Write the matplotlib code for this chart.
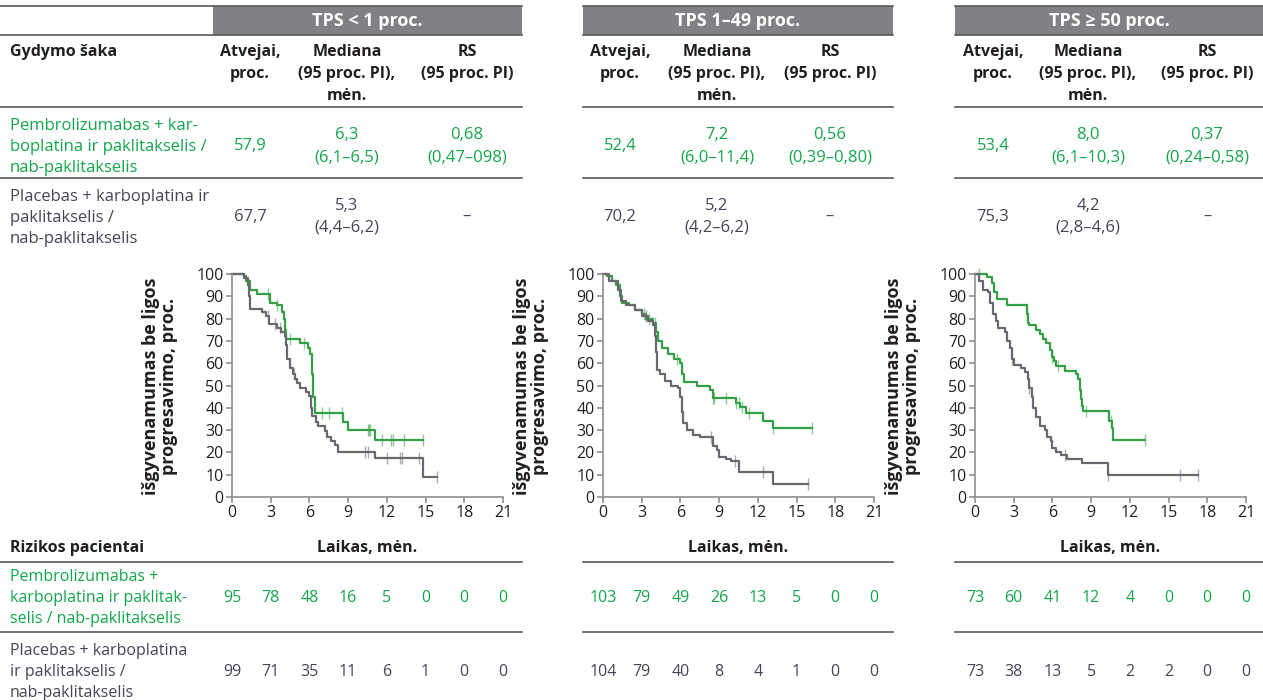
import numpy as np
import matplotlib
matplotlib.use('Agg')
import matplotlib.pyplot as plt
from matplotlib.lines import Line2D
from matplotlib.patches import Rectangle
from matplotlib.transforms import blended_transform_factory

plt.rcParams['font.family'] = ['Open Sans', 'DejaVu Sans']

W, H = 1263, 700
GREEN_TXT = '#12a64a'
GREEN_LN = '#34a046'
GRAY_TXT = '#4a4257'
GRAY_LN = '#6b6670'
BLACK = '#231f20'
RULE = '#58595b'
HEAD = '#808184'

# --- table data ---
groups = ['TPS < 1 proc.', 'TPS 1–49 proc.', 'TPS ≥ 50 proc.']
atvejai_pembro = ['57,9', '52,4', '53,4']
atvejai_placebo = ['67,7', '70,2', '75,3']
med_pembro = ['6,3', '7,2', '8,0']
med_pembro_ci = ['(6,1–6,5)', '(6,0–11,4)', '(6,1–10,3)']
med_placebo = ['5,3', '5,2', '4,2']
med_placebo_ci = ['(4,4–6,2)', '(4,2–6,2)', '(2,8–4,6)']
rs_pembro = ['0,68', '0,56', '0,37']
rs_pembro_ci = ['(0,47–098)', '(0,39–0,80)', '(0,24–0,58)']
rs_placebo = ['–', '–', '–']

pembro_label = ['Pembrolizumabas + kar-', 'boplatina ir paklitakselis /', 'nab-paklitakselis']
placebo_label = ['Placebas + karboplatina ir', 'paklitakselis /', 'nab-paklitakselis']
pembro_risk_label = ['Pembrolizumabas +', 'karboplatina ir paklitak-', 'selis / nab-paklitakselis']
placebo_risk_label = ['Placebas + karboplatina', 'ir paklitakselis /', 'nab-paklitakselis']

# --- Kaplan-Meier curves (months, % progression-free) ---
g1_t = [0, 0.9, 1.1, 1.4, 1.9, 2.95, 3.5, 3.85, 4.0, 4.1, 4.2, 5.3, 5.9, 6.05, 6.2, 6.25, 6.4, 8.6, 9.0, 11.1, 14.8]
g1_s = [100, 99, 97, 93, 91, 87, 86, 83, 80, 75, 71, 69, 67, 64, 55, 45, 37.6, 33.5, 30, 25.5, 25.5]
p1_t = [0, 0.9, 1.27, 1.3, 1.4, 2.3, 2.6, 2.9, 3.5, 3.8, 4.1, 4.15, 4.3, 4.5, 4.7, 4.9, 5.0, 5.3, 5.7, 6.0, 6.1, 6.2,
        6.5, 6.7, 7.2, 7.4, 7.7, 8.0, 8.2, 11.1, 14.8, 15.9]
p1_s = [100, 98, 95, 90, 84.5, 83, 81, 77.5, 76, 74, 72, 68, 62, 58, 55, 53, 51, 49, 47, 45.5, 40, 36.5,
        33.5, 32, 29.5, 27, 25, 23.5, 20, 17.5, 8.8, 8.8]
g2_t = [0, 0.3, 0.7, 1.0, 1.3, 1.5, 2.0, 2.5, 3.0, 3.3, 3.9, 4.1, 4.3, 4.6, 5.0, 5.5, 6.0, 6.1, 6.3, 7.3, 8.3, 8.5,
        10.3, 10.6, 11.1, 12.4, 13.2, 16.2]
g2_s = [100, 99, 97, 95, 90, 87, 86, 84, 82, 80, 78, 74, 70, 67, 64, 62, 60, 55, 51.5, 50, 48, 44.5,
        42, 40.5, 37.5, 34, 31, 31]
p2_t = [0, 0.5, 1.2, 1.4, 1.8, 2.5, 3.0, 3.5, 3.9, 4.0, 4.1, 4.2, 4.4, 4.8, 5.3, 5.8, 6.0, 6.1, 6.2, 6.5, 7.0, 7.5,
        8.5, 8.8, 9.0, 9.5, 9.9, 10.5, 13.2, 15.9]
p2_s = [100, 97, 93, 88, 86, 84, 81, 79, 77, 72, 65, 57, 55, 52, 50, 49, 45, 38, 33, 30, 28, 27,
        23, 21, 18, 17, 16, 11, 6, 6]
g3_t = [0, 0.9, 1.3, 1.5, 1.7, 2.5, 4.0, 4.1, 4.2, 4.7, 5.0, 5.3, 5.5, 5.8, 6.0, 6.1, 6.3, 7.0, 7.8, 8.0, 8.1, 8.2,
        8.3, 8.4, 10.4, 10.6, 10.7, 13.2]
g3_s = [100, 98.5, 96, 92, 88.6, 86, 82, 78, 77, 75, 73, 71, 69, 66, 63, 61, 58.6, 56.5, 55, 53, 48, 44,
        41, 38.6, 34, 31, 25.7, 25.7]
p3_t = [0, 0.3, 0.6, 1.0, 1.2, 1.4, 1.6, 1.8, 2.3, 2.5, 2.7, 2.9, 3.0, 3.6, 3.9, 4.1, 4.2, 4.4, 4.5, 4.7, 5.0, 5.4,
        5.6, 5.9, 6.0, 6.3, 6.7, 7.1, 8.3, 10.3, 17.3]
p3_s = [100, 97, 93, 92, 87, 82, 79, 76, 74, 70, 67, 62, 59, 58, 56, 53, 49, 45, 40, 36, 32, 30,
        27, 25, 22, 20, 19, 17.2, 15.4, 10, 10]

# censored observations (months)
g1_cens = [2.8, 3.5, 4.1, 4.5, 5.6, 7.0, 7.5, 8.5, 10.5, 10.6, 10.7, 11.6, 12.3, 12.5, 13.3, 14.8]
p1_cens = [2.8, 3.3, 3.7, 4.8, 10.3, 10.5, 12.0, 13.0, 13.2, 14.5, 15.9]
g2_cens = [3.2, 3.6, 4.0, 5.7, 8.5, 8.6, 9.5, 10.3, 10.5, 10.8, 11.3, 13.2, 16.2]
p2_cens = [3.3, 8.4, 10.2, 12.4, 15.9]
g3_cens = [0.3, 4.0, 6.0, 6.4, 8.6, 10.5, 13.2]
p3_cens = [2.9, 4.2, 7.0, 10.3, 15.9, 17.3]

risk_times = [0, 3, 6, 9, 12, 15, 18, 21]
risk_pembro = [[95, 78, 48, 16, 5, 0, 0, 0], [103, 79, 49, 26, 13, 5, 0, 0], [73, 60, 41, 12, 4, 0, 0, 0]]
risk_placebo = [[99, 71, 35, 11, 6, 1, 0, 0], [104, 79, 40, 8, 4, 1, 0, 0], [73, 38, 13, 5, 2, 2, 0, 0]]

curves = [((g1_t, g1_s, g1_cens), (p1_t, p1_s, p1_cens)),
          ((g2_t, g2_s, g2_cens), (p2_t, p2_s, p2_cens)),
          ((g3_t, g3_s, g3_cens), (p3_t, p3_s, p3_cens))]

# layout (pixels)
span = [(0, 522), (583, 893), (955, 1263)]
head_x = [(213, 522), (583, 893), (955, 1263)]
col_x = [(250, 347, 467), (620, 717, 830), (993, 1088, 1207)]
ax_x = [(232, 503), (603, 874), (975, 1246)]
AX_TOP, AX_BOT = 274, 497
FS = 12        # regular body text
FB = 11.5      # bold headers
FT = 11.5      # tick labels / risk numbers


def fx(x):
    return x / W


def fy(y):
    return 1 - y / H


fig = plt.figure(figsize=(W / 100, H / 100), dpi=100)
fig.patch.set_facecolor('white')


def txt(x, y, s, color=BLACK, bold=False, ha='center', size=None, **kw):
    if size is None:
        size = FB if bold else FS
    fig.text(fx(x), fy(y), s, color=color, fontweight='bold' if bold else 'normal',
             ha=ha, va='center', fontsize=size, **kw)


def lines(x, y0, rows, step=21, **kw):
    for i, r in enumerate(rows):
        txt(x, y0 + i * step, r, **kw)


def rule(x0, x1, y, lw=1.2):
    fig.add_artist(Line2D([fx(x0), fx(x1)], [fy(y), fy(y)], color=RULE, lw=lw))


# ---- top table ----
rule(0, 213, 6)
txt(10, 52, 'Gydymo šaka', bold=True, ha='left')
lines(10, 126, pembro_label, color=GREEN_TXT, ha='left')
lines(10, 197, placebo_label, color=GRAY_TXT, ha='left')

for i in range(3):
    hx0, hx1 = head_x[i]
    fig.add_artist(Rectangle((fx(hx0), fy(35)), fx(hx1 - hx0), 29 / H, color=HEAD, lw=0))
    rule(hx0, hx1, 6)
    txt((hx0 + hx1) / 2, 21, groups[i], color='white', bold=True, size=13)
    s0, s1 = span[i]
    for y in (35, 107, 178):
        rule(s0, s1, y)
    ca, cm, cr = col_x[i]
    lines(ca, 52, ['Atvejai,', 'proc.'], step=22, bold=True)
    lines(cm, 52, ['Mediana', '(95 proc. PI),', 'mėn.'], step=22, bold=True)
    lines(cr, 52, ['RS', '(95 proc. PI)'], step=22, bold=True)

    txt(ca, 146, atvejai_pembro[i], color=GREEN_TXT)
    lines(cm, 135, [med_pembro[i], med_pembro_ci[i]], step=22, color=GREEN_TXT)
    lines(cr, 135, [rs_pembro[i], rs_pembro_ci[i]], step=22, color=GREEN_TXT)
    txt(ca, 217, atvejai_placebo[i], color=GRAY_TXT)
    lines(cm, 206, [med_placebo[i], med_placebo_ci[i]], step=22, color=GRAY_TXT)
    txt(cr, 217, rs_placebo[i], color=GRAY_TXT)

# ---- KM plots ----
for i in range(3):
    x0, x1 = ax_x[i]
    ax = fig.add_axes([fx(x0), fy(AX_BOT), (x1 - x0) / W, (AX_BOT - AX_TOP) / H])
    ax.set_xlim(0, 21)
    ax.set_ylim(0, 100)
    ax.set_xticks(risk_times)
    ax.set_yticks(range(0, 101, 10))
    for sp in ('top', 'right'):
        ax.spines[sp].set_visible(False)
    for sp in ('left', 'bottom'):
        ax.spines[sp].set_color('#8f8f8f')
        ax.spines[sp].set_linewidth(1.2)
    ax.tick_params(colors='#8f8f8f', labelcolor=BLACK, labelsize=FT, length=4, width=1.2, pad=2)
    ax.patch.set_alpha(0)

    for (t, s, cens), col in zip(curves[i], (GREEN_LN, GRAY_LN)):
        ax.step(t, s, where='post', color=col, lw=1.6, clip_on=False)
        t_arr, s_arr = np.array(t), np.array(s)
        idx = np.searchsorted(t_arr, cens, side='right') - 1
        ax.plot(cens, s_arr[idx], ls='none', marker='|', ms=8, mew=1.0, color=col, alpha=0.55,
                clip_on=False)

    cx = (x0 + x1) / 2
    fig.text(fx(x0 - 72), fy(386), 'išgyvenamumas be ligos\nprogresavimo, proc.', rotation=90,
             ha='center', va='center', fontsize=13, fontweight='bold', color=BLACK,
             multialignment='center', linespacing=1.0)
    txt(cx, 548, 'Laikas, mėn.', bold=True)

    # risk table
    s0, s1 = span[i]
    rule(s0, s1, 562)
    rule(s0, s1, 632)
    tr = blended_transform_factory(ax.transData, fig.transFigure)
    for k, tm in enumerate(risk_times):
        ax.text(tm, fy(598), str(risk_pembro[i][k]), transform=tr, ha='center', va='center',
                fontsize=FT, color=GREEN_TXT)
        ax.text(tm, fy(672), str(risk_placebo[i][k]), transform=tr, ha='center', va='center',
                fontsize=FT, color=GRAY_TXT)

txt(10, 548, 'Rizikos pacientai', bold=True, ha='left')
lines(10, 577, pembro_risk_label, color=GREEN_TXT, ha='left', size=11.5)
lines(10, 651, placebo_risk_label, color=GRAY_TXT, ha='left', size=11.5)

fig.savefig('out.png', dpi=100)
